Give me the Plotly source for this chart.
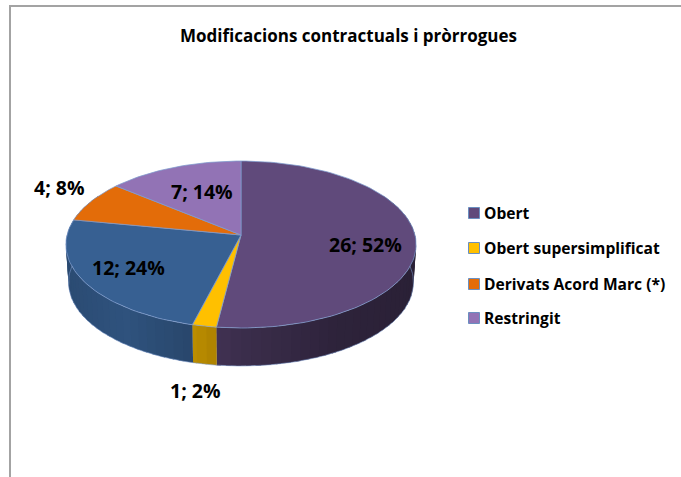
import numpy as np
import plotly.graph_objects as go

# Dades del gràfic
categories = ['Obert', 'Obert supersimplificat', '', 'Derivats Acord Marc (*)', 'Restringit']
values = [26, 1, 12, 4, 7]
title_text = 'Modificacions contractuals i pròrrogues'

colors = ['#604a7b', '#ffc000', '#376092', '#e36c09', '#9273b5']

# posicio de les etiquetes (pixels)
label_x = [365.5, 195.5, 128.5, 59, 201.5]
label_y = [244, 390, 267, 187, 191]

FONT_TEXT = 'Open Sans'

# geometria del pastis 3D (pixels)
CX, CY = 241, 235
RX, RY = 174, 82.4
PERSP = 0.114
DEPTH = 38


def project(angle, base=False):
    # angle en graus, sentit horari des de dalt
    a = np.radians(angle)
    u, v = np.sin(a), np.cos(a)
    den = 1 + PERSP * v
    x = RX * u / den
    y = -RY * v / den
    if base:
        return CX + 0.985 * x, CY + y + DEPTH
    return CX + x, CY + y


def shade(hex_color, k):
    r, g, b = [int(hex_color[i:i + 2], 16) for i in (1, 3, 5)]
    return f'rgb({int(r * k)},{int(g * k)},{int(b * k)})'


def side_shade(angle):
    u = np.sin(np.radians(angle))
    return float(np.interp(u, [-1, -0.6, -0.25, 0, 0.5, 1], [0.78, 0.86, 0.74, 0.62, 0.48, 0.44]))


total = sum(values)
edges = np.cumsum([0] + values) / total * 360

fig = go.Figure()

# parets laterals, amb solapament perque no es vegin les juntes
for i, val in enumerate(values):
    start, end = max(edges[i], 60), min(edges[i + 1], 300)
    if end <= start:
        continue
    steps = np.arange(start, end, 3.0).tolist() + [end]
    for a0, a1 in zip(steps[:-1], steps[1:]):
        a_end = min(a1 + 1.5, end)
        x0, y0 = project(a0)
        x1, y1 = project(a_end)
        x2, y2 = project(a_end, base=True)
        x3, y3 = project(a0, base=True)
        col = shade(colors[i], side_shade((a0 + a1) / 2))
        fig.add_trace(go.Scatter(
            x=[x0, x1, x2, x3, x0], y=[y0, y1, y2, y3, y0],
            mode='none', fill='toself', fillcolor=col,
            hoverinfo='skip', showlegend=False
        ))

# contorn inferior
base_angles = np.linspace(60, 300, 120)
bx, by = project(base_angles, base=True)
fig.add_trace(go.Scatter(
    x=bx, y=by, mode='lines', line=dict(color='rgba(125,155,205,0.55)', width=1),
    hoverinfo='skip', showlegend=False
))

# cara superior
for i, val in enumerate(values):
    angles = np.linspace(edges[i], edges[i + 1], max(int(val * 4), 6))
    xs, ys = project(angles)
    fig.add_trace(go.Scatter(
        x=[CX] + xs.tolist() + [CX], y=[CY] + ys.tolist() + [CY],
        mode='lines', fill='toself', fillcolor=colors[i],
        line=dict(color='rgba(125,155,205,0.75)', width=1),
        name=categories[i], hoverinfo='skip', showlegend=False
    ))

# llegenda
leg_names = [c for c in categories if c]
leg_colors = [colors[i] for i, c in enumerate(categories) if c]
leg_y = [213, 248, 284, 318]
fig.add_trace(go.Scatter(
    x=[474] * len(leg_names), y=leg_y,
    mode='markers',
    marker=dict(symbol='square', size=11, color=leg_colors, line=dict(color='#6a8fc0', width=1)),
    hoverinfo='skip', showlegend=False
))

annotations = []
for name, y in zip(leg_names, leg_y):
    annotations.append(dict(
        x=484, y=y, xref='x', yref='y', xanchor='left', xshift=-2,
        text=f'<b>{name}</b>', showarrow=False,
        font=dict(family=FONT_TEXT, size=15.6, color='black')
    ))

for i, val in enumerate(values):
    pct = round(val / total * 100)
    annotations.append(dict(
        x=label_x[i], y=label_y[i], xref='x', yref='y',
        text=f'<b>{val}; {pct}%</b>', showarrow=False,
        font=dict(family=FONT_TEXT, size=19.5, color='black')
    ))

annotations.append(dict(
    x=348.5, y=35, xref='x', yref='y', text=f'<b>{title_text}</b>', showarrow=False,
    font=dict(family=FONT_TEXT, size=17, color='black')
))

fig.update_layout(
    width=681,
    height=477,
    margin=dict(l=0, r=0, t=0, b=0),
    paper_bgcolor='white',
    plot_bgcolor='white',
    xaxis=dict(range=[0, 681], visible=False, fixedrange=True),
    yaxis=dict(range=[477, 0], visible=False, fixedrange=True),
    annotations=annotations,
    shapes=[
        dict(type='line', x0=9, x1=681, y0=6, y1=6, xref='x', yref='y', line=dict(color='#a3a3a3', width=2)),
        dict(type='line', x0=10, x1=10, y0=5, y1=477, xref='x', yref='y', line=dict(color='#a3a3a3', width=2)),
    ],
)

fig.write_html("out.html", config=dict(displayModeBar=False),
               post_script="document.body.style.margin='0';")
